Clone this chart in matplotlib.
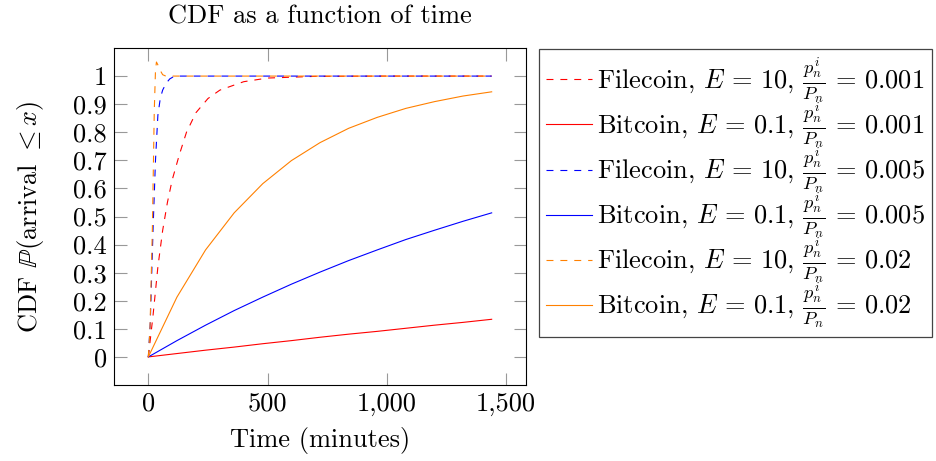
import matplotlib
matplotlib.use("Agg")
import matplotlib.pyplot as plt
from matplotlib.ticker import FuncFormatter

plt.rcParams['font.family'] = ['cmr10', 'DejaVu Serif']
plt.rcParams['mathtext.fontset'] = 'cm'
plt.rcParams['axes.unicode_minus'] = False
plt.rcParams['axes.formatter.use_mathtext'] = True
plt.rcParams['lines.scale_dashes'] = False

# ---- data ----
t_solid = [0, 120, 240, 360, 480, 600, 720, 840, 960, 1080, 1200, 1320, 1440]
btc_001 = [0, 0.012, 0.024, 0.035, 0.047, 0.058, 0.070, 0.081, 0.091, 0.102, 0.113, 0.123, 0.134]
btc_005 = [0, 0.058, 0.113, 0.165, 0.213, 0.259, 0.302, 0.343, 0.381, 0.418, 0.451, 0.483, 0.513]
btc_02 = [0, 0.213, 0.381, 0.513, 0.617, 0.699, 0.763, 0.814, 0.853, 0.885, 0.909, 0.929, 0.944]

t_fil_001 = [0, 20, 40, 60, 80, 100, 130, 160, 200, 250, 300, 400, 500, 700, 1000, 1440]
fil_001 = [0, 0.15, 0.32, 0.45, 0.55, 0.63, 0.72, 0.80, 0.87, 0.92, 0.95, 0.98, 0.993, 0.999, 1.0, 1.0]
t_fil_005 = [0, 8, 20, 30, 40, 50, 60, 75, 90, 110, 1440]
fil_005 = [0, 0.12, 0.46, 0.70, 0.86, 0.92, 0.95, 0.975, 0.99, 1.0, 1.0]
t_fil_02 = [0, 7, 17, 25, 30, 34, 40, 50, 60, 73, 1440]
fil_02 = [0, 0.10, 0.46, 0.88, 1.02, 1.05, 1.04, 1.02, 1.005, 1.0, 1.0]

x_ticks = [0, 500, 1000, 1500]
y_ticks = [0, 0.1, 0.2, 0.3, 0.4, 0.5, 0.6, 0.7, 0.8, 0.9, 1.0]

RED = '#ff0000'
BLUE = '#0000ff'
ORANGE = '#ff8000'

fig = plt.figure(figsize=(9.36, 4.61), dpi=100)
ax = fig.add_axes([114/936, 1-385/461, (526-114)/936, (385-48)/461])

fs = 19
lw = 0.8
dash = (0, (5, 5))
eq = r'\,=\,'
frac = r',\,\frac{p_n^i}{P_n}'
ax.plot(t_fil_001, fil_001, color=RED, lw=lw, linestyle=dash,
        label=r'Filecoin, $E' + eq + '10' + frac + eq + r'0.001$')
ax.plot(t_solid, btc_001, color=RED, lw=lw,
        label=r'Bitcoin, $E' + eq + '0.1' + frac + eq + r'0.001$')
ax.plot(t_fil_005, fil_005, color=BLUE, lw=lw, linestyle=dash,
        label=r'Filecoin, $E' + eq + '10' + frac + eq + r'0.005$')
ax.plot(t_solid, btc_005, color=BLUE, lw=lw,
        label=r'Bitcoin, $E' + eq + '0.1' + frac + eq + r'0.005$')
ax.plot(t_fil_02, fil_02, color=ORANGE, lw=lw, linestyle=dash,
        label=r'Filecoin, $E' + eq + '10' + frac + eq + r'0.02$')
ax.plot(t_solid, btc_02, color=ORANGE, lw=lw,
        label=r'Bitcoin, $E' + eq + '0.1' + frac + eq + r'0.02$')

ax.set_xlim(-144, 1584)
ax.set_ylim(-0.1, 1.1)
ax.set_xticks(x_ticks)
ax.set_yticks(y_ticks)
ax.xaxis.set_major_formatter(FuncFormatter(lambda v, p: f'{int(v):,}'))
ax.yaxis.set_major_formatter(FuncFormatter(lambda v, p: '0' if v == 0 else ('1' if abs(v-1) < 1e-9 else f'{v:.1f}')))
ax.tick_params(direction='in', length=9, width=0.8, color='#999999',
               top=True, right=True, labelsize=fs, pad=5)
for s in ax.spines.values():
    s.set_linewidth(0.8)

ax.set_xlabel('Time (minutes)', fontsize=fs, labelpad=8)
ax.set_ylabel(r'CDF $\mathbb{P}$(arrival $\leq x$)', fontsize=fs, labelpad=20)
ax.set_title('CDF as a function of time', fontsize=fs, pad=18)

leg = ax.legend(loc='upper left', bbox_to_anchor=(539/936, 1-49/461),
                bbox_transform=fig.transFigure, fontsize=fs, frameon=True,
                fancybox=False, edgecolor='#444444', framealpha=1,
                handlelength=1.75, handletextpad=0.2, labelspacing=-0.175,
                borderpad=0.25, borderaxespad=0)
leg.get_frame().set_linewidth(0.9)

fig.savefig('out.png', dpi=100)
